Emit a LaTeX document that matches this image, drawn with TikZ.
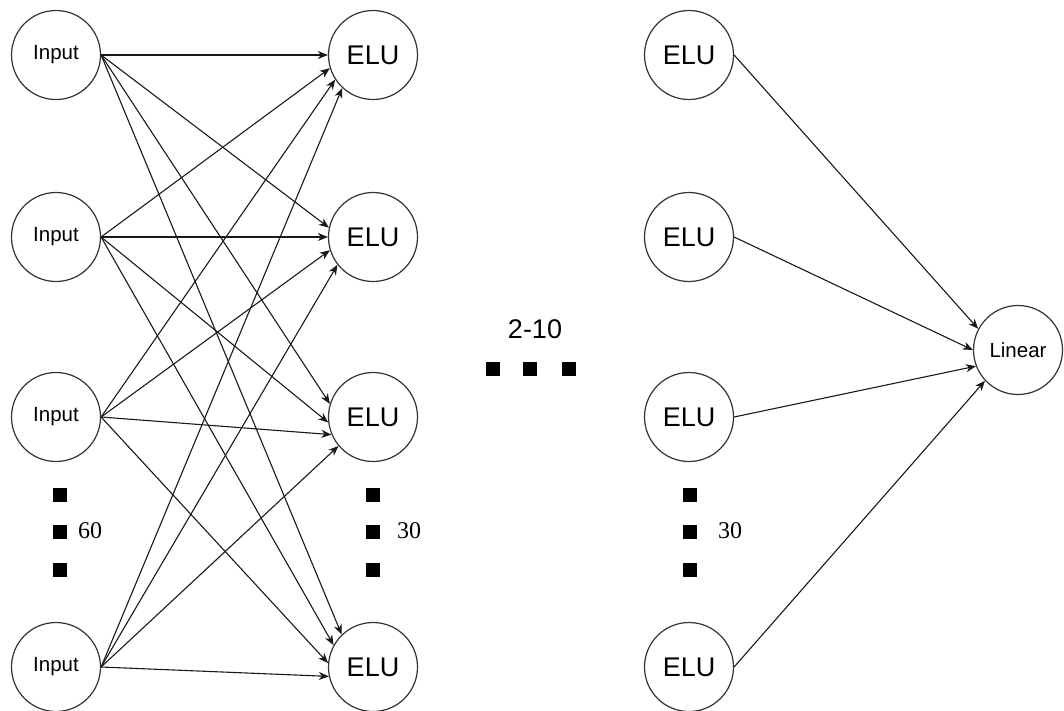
\documentclass[tikz,border=0pt]{standalone}
\usepackage{fontspec}
\setmainfont{Liberation Sans}
\newfontfamily\serifnum{Liberation Serif}
\usetikzlibrary{arrows.meta}

\tikzset{
  neuron/.style={circle, draw=black!80, line width=1.2pt, minimum size=89pt, inner sep=0pt, fill=white},
  smalltxt/.style={font=\fontsize{20.5}{24}\selectfont},
  bigtxt/.style={font=\fontsize{27}{30}\selectfont},
  conn/.style={draw=black!90, line width=1.1pt, -{Stealth[length=10pt, width=8pt, inset=3pt]}},
  sq/.style={rectangle, fill=black, minimum size=13.5pt, inner sep=0pt},
  count/.style={font=\serifnum\fontsize{24}{28}\selectfont, anchor=west, inner sep=0pt},
}

\begin{document}
\begin{tikzpicture}[x=1pt, y=-1pt]
\useasboundingbox (0,0) rectangle (1064,710);

% input layer
\node[neuron, smalltxt] (in1) at (56,55)  {Input};
\node[neuron, smalltxt] (in2) at (56,237) {Input};
\node[neuron, smalltxt] (in3) at (56,417) {Input};
\node[neuron, smalltxt] (in4) at (56,667) {Input};

% first hidden layer
\node[neuron, bigtxt] (h1) at (373,55)  {ELU};
\node[neuron, bigtxt] (h2) at (373,237) {ELU};
\node[neuron, bigtxt] (h3) at (373,417) {ELU};
\node[neuron, bigtxt] (h4) at (373,667) {ELU};

% last hidden layer
\node[neuron, bigtxt] (o1) at (689,55)  {ELU};
\node[neuron, bigtxt] (o2) at (689,237) {ELU};
\node[neuron, bigtxt] (o3) at (689,417) {ELU};
\node[neuron, bigtxt] (o4) at (689,667) {ELU};

% output
\node[neuron, smalltxt] (lin) at (1018,350) {Linear};

% input -> first hidden layer (fully connected)
\draw[conn] (in1.east) -- (h1.180);
\draw[conn] (in2.east) -- (h1.197);
\draw[conn] (in3.east) -- (h1.213);
\draw[conn] (in4.east) -- (h1.227);

\draw[conn] (in1.east) -- (h2.168);
\draw[conn] (in2.east) -- (h2.180);
\draw[conn] (in3.east) -- (h2.197);
\draw[conn] (in4.east) -- (h2.218);

\draw[conn] (in1.east) -- (h3.163);
\draw[conn] (in2.east) -- (h3.187);
\draw[conn] (in3.east) -- (h3.203);
\draw[conn] (in4.east) -- (h3.220);

\draw[conn] (in1.east) -- (h4.134);
\draw[conn] (in2.east) -- (h4.151);
\draw[conn] (in3.east) -- (h4.175);
\draw[conn] (in4.east) -- (h4.192);

% last hidden layer -> output
\draw[conn] (o1.east) -- (lin.152);
\draw[conn] (o2.east) -- (lin.180);
\draw[conn] (o3.east) -- (lin.201);
\draw[conn] (o4.east) -- (lin.223);

% vertical ellipses with layer sizes
\node[sq] (d1a) at (60,495) {};
\node[sq] (d1b) at (60,532) {};
\node[sq] (d1c) at (60,570) {};
\node[count] (n60) at (78,531) {60};

\node[sq] (d2a) at (373,495) {};
\node[sq] (d2b) at (373,532) {};
\node[sq] (d2c) at (373,570) {};
\node[count] (n30a) at (397,531) {30};

\node[sq] (d3a) at (690,495) {};
\node[sq] (d3b) at (690,532) {};
\node[sq] (d3c) at (690,570) {};
\node[count] (n30b) at (718,531) {30};

% horizontal ellipsis for the repeated hidden layers
\node[font=\fontsize{27}{32}\selectfont, inner sep=0pt] (nlay) at (535,329) {2-10};
\node[sq] (m1) at (493,369) {};
\node[sq] (m2) at (530,369) {};
\node[sq] (m3) at (569,369) {};
\end{tikzpicture}
\end{document}
